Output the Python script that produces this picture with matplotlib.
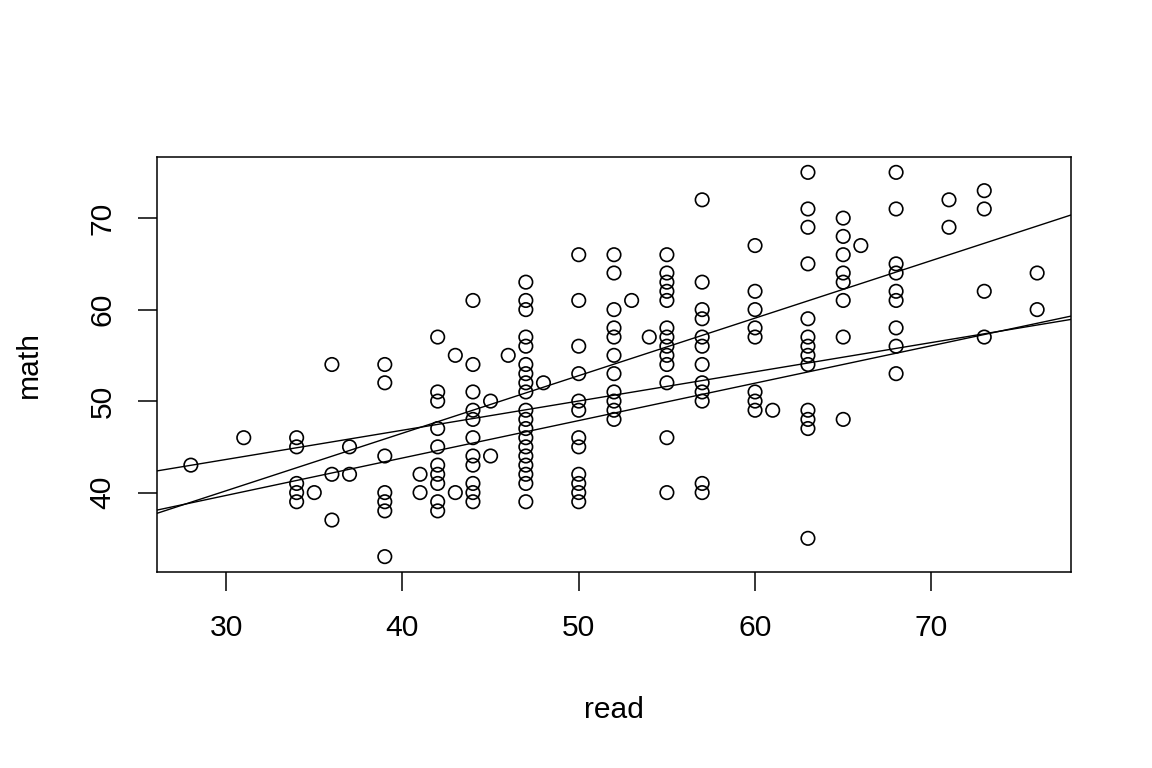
import matplotlib
matplotlib.use("Agg")
import matplotlib.pyplot as plt
import numpy as np

plt.rcParams['font.family'] = ['Liberation Sans', 'DejaVu Sans']

# math scores seen at each read score
read_scores = [28, 31, 34, 35, 36, 37, 39, 41, 42, 43, 44, 45, 46, 47, 48, 50,
               52, 53, 54, 55, 57, 60, 61, 63, 65, 66, 68, 71, 73, 76]
math_scores = [
    [43],
    [46],
    [46, 45, 41, 40, 39],
    [40],
    [54, 42, 37],
    [45, 42],
    [54, 52, 44, 40, 39, 38, 33],
    [42, 40],
    [57, 51, 50, 47, 45, 43, 42, 41, 39, 38],
    [55, 40],
    [61, 54, 51, 49, 48, 46, 44, 43, 41, 40, 39],
    [50, 44],
    [55],
    [63, 61, 60, 57, 56, 54, 53, 52, 51, 49, 48, 47, 46, 45, 44, 43, 42, 41, 39],
    [52],
    [66, 61, 56, 53, 50, 49, 46, 45, 42, 41, 40, 39],
    [66, 64, 60, 58, 57, 55, 53, 51, 50, 49, 48],
    [61],
    [57],
    [66, 64, 63, 62, 61, 58, 57, 56, 55, 54, 52, 46, 40],
    [72, 63, 60, 59, 57, 56, 54, 52, 51, 50, 41, 40],
    [67, 62, 60, 58, 57, 51, 50, 49],
    [49],
    [75, 71, 69, 65, 59, 57, 56, 55, 54, 49, 48, 47, 35],
    [70, 68, 66, 64, 63, 61, 57, 48],
    [67],
    [75, 71, 65, 64, 62, 61, 58, 56, 53],
    [72, 69],
    [73, 71, 62, 57],
    [64, 60],
]

# fitted lines (intercept, slope)
intercepts = [21.33, 34.04, 27.42]
slopes = [0.629, 0.3194, 0.409]

x = []
y = []
for r, ms in zip(read_scores, math_scores):
    for m in ms:
        x.append(r)
        y.append(m)
x = np.array(x)
y = np.array(y)

fig = plt.figure(figsize=(11.52, 7.68), dpi=100)
ax = fig.add_axes([157 / 1152, 1 - 572 / 768, 914 / 1152, 415 / 768])

ax.scatter(x, y, s=9.7 ** 2, facecolors='none', edgecolors='black', linewidths=1.2, zorder=3)

# R style 4% padding
xlo, xhi = 28 - 48 * 0.04, 76 + 48 * 0.04
ylo, yhi = 33 - 42 * 0.04, 75 + 42 * 0.04
for a, b in zip(intercepts, slopes):
    ax.axline((0, a), slope=b, color='black', linewidth=1.0, zorder=2)

fs = 21.6
ax.set_xlim(xlo, xhi)
ax.set_ylim(ylo, yhi)
ax.set_xticks([30, 40, 50, 60, 70])
ax.set_yticks([40, 50, 60, 70])
ax.tick_params(axis='both', direction='out', length=14, width=1.1, labelsize=fs, color='black')
ax.tick_params(axis='x', pad=16)
ax.tick_params(axis='y', pad=15)
for lab in ax.get_yticklabels():
    lab.set_rotation(90)
    lab.set_va('center')
for sp in ax.spines.values():
    sp.set_linewidth(1.1)

ax.set_xlabel('read', fontsize=fs)
ax.xaxis.set_label_coords(0.5, -(718 - 572) / 415)
ax.xaxis.label.set_va('baseline')
ax.set_ylabel('math', fontsize=fs, rotation_mode='anchor', ha='center', va='baseline')
ax.yaxis.set_label_coords(-(157 - 37) / 914, 0.5)

fig.savefig('out.png', dpi=100)
